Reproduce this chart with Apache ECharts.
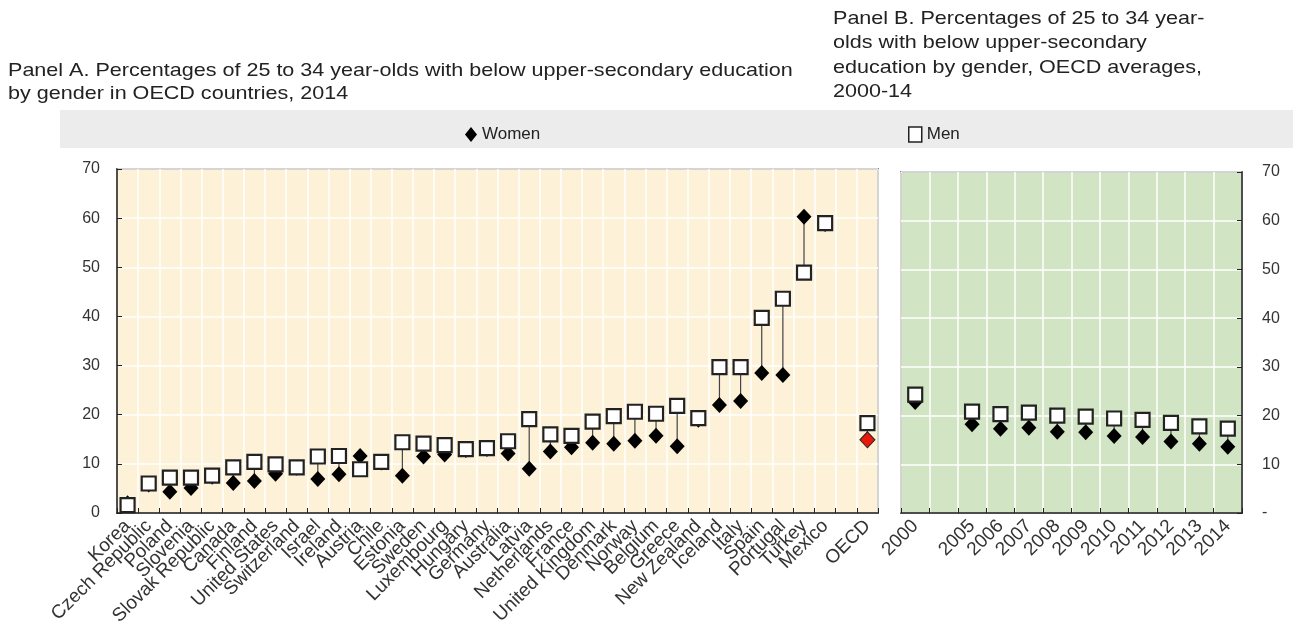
<!DOCTYPE html>
<html><head><meta charset="utf-8">
<script src="https://cdn.jsdelivr.net/npm/echarts@6/dist/echarts.min.js"></script>
<style>html,body{margin:0;padding:0;background:#fff}#c{width:1293px;height:632px}</style>
</head><body><div id="c"></div>
<script>
// Panel A data (2014)
const countries = ['Korea','Czech Republic','Poland','Slovenia','Slovak Republic','Canada','Finland','United States','Switzerland','Israel','Ireland','Austria','Chile','Estonia','Sweden','Luxembourg','Hungary','Germany','Australia','Latvia','Netherlands','France','United Kingdom','Denmark','Norway','Belgium','Greece','New Zealand','Iceland','Italy','Spain','Portugal','Turkey','Mexico','','OECD'];
const womenA = [2.0,5.8,4.3,5.1,7.4,6.1,6.5,8.0,9.2,6.9,7.9,11.6,10.3,7.6,11.5,11.9,12.8,13.0,12.1,9.0,12.5,13.4,14.3,14.1,14.7,15.7,13.6,19.0,22.0,22.8,28.5,28.1,60.3,58.8,null,14.9];
const menA   = [1.6,6.0,7.2,7.2,7.6,9.3,10.4,9.9,9.3,11.5,11.6,8.9,10.4,14.4,14.1,13.8,13.0,13.2,14.6,19.1,16.0,15.7,18.6,19.7,20.6,20.2,21.8,19.3,29.7,29.7,39.7,43.6,48.9,59.0,null,18.3];
// Panel B data (OECD averages)
const years = ['2000','','2005','2006','2007','2008','2009','2010','2011','2012','2013','2014'];
const womenB = [22.8,null,18.2,17.3,17.5,16.7,16.6,15.8,15.6,14.7,14.2,13.6];
const menB   = [24.3,null,20.8,20.3,20.6,20.0,19.8,19.4,19.1,18.5,17.8,17.3];
const titleA = ['Panel A. Percentages of 25 to 34 year-olds with below upper-secondary education','by gender in OECD countries, 2014'];
const titleB = ['Panel B. Percentages of 25 to 34 year-','olds with below upper-secondary','education by gender, OECD averages,','2000-14'];

const FONT = 'Liberation Sans, Arial, sans-serif';
const TXT = '#333';
const chart = echarts.init(document.getElementById('c'), null, {renderer:'canvas'});

function linkData(w, m){
  const out = [];
  w.forEach((v,i)=>{ if(v!=null && m[i]!=null) out.push([i, v, m[i]]); });
  return out;
}
function renderLink(params, api){
  const x = api.value(0);
  const p1 = api.coord([x, api.value(1)]);
  const p2 = api.coord([x, api.value(2)]);
  return {type:'line', shape:{x1:p1[0],y1:p1[1],x2:p2[0],y2:p2[1]}, style:{stroke:'#444', lineWidth:1.2}};
}
const oecdIdx = countries.indexOf('OECD');
const womenAData = womenA.map((v,i)=> i===oecdIdx ? {value:v, itemStyle:{color:'#e8180c', borderColor:'#222', borderWidth:1}} : v);

function titleLines(lines, x, y0, lh){
  return lines.map((t,i)=>({type:'text', x:x, y:y0+i*lh, scaleX:1.165, originX:0, originY:0,
    style:{text:t, font:'18.5px '+FONT, fill:'#222', verticalAlign:'middle'}}));
}

const xAxisCommon = {
  type:'category', boundaryGap:true,
  axisLine:{show:true, lineStyle:{color:'#222', width:1.5}},
  axisTick:{show:true, inside:true, length:5, lineStyle:{color:'#222'}},
  axisLabel:{rotate:45, fontFamily:FONT, fontSize:19, color:TXT, margin:10, interval:0},
  splitLine:{show:true, lineStyle:{color:'#ffffff', width:1.5}}
};
const yAxisCommon = {
  type:'value', min:0, max:70, interval:10,
  axisLine:{show:true, lineStyle:{color:'#222', width:1.5}},
  axisTick:{show:true, inside:true, length:5, lineStyle:{color:'#222'}},
  splitLine:{show:true, lineStyle:{color:'#ffffff', width:1.5}},
  axisLabel:{fontFamily:FONT, fontSize:16, color:TXT, margin:17}
};

const option = {
  animation:false,
  textStyle:{fontFamily:FONT},
  graphic:[{type:'rect', shape:{x:60, y:110, width:1233, height:38}, style:{fill:'#ececec'}, z:-10}]
    .concat(titleLines(titleA, 8, 71, 23))
    .concat(titleLines(titleB, 833, 19, 24.3)),
  legend:[
    {data:[{name:'Women', icon:'diamond'}], left:460, top:121, itemWidth:12, itemHeight:15, itemGap:10,
     textStyle:{fontFamily:FONT, fontSize:17, color:'#222'}},
    {data:[{name:'Men', icon:'rect'}], left:903, top:121, itemWidth:13, itemHeight:15, itemGap:10,
     itemStyle:{borderWidth:1.5},
     textStyle:{fontFamily:FONT, fontSize:17, color:'#222'}}
  ],
  grid:[
    {left:117, right:1293-878, top:169, bottom:632-513, show:true, backgroundColor:'#fdf1d8', borderColor:'#222', borderWidth:1.5},
    {left:901, right:1293-1242, top:172, bottom:632-513, show:true, backgroundColor:'#d1e4c4', borderColor:'#222', borderWidth:1.5}
  ],
  xAxis:[
    Object.assign({}, xAxisCommon, {gridIndex:0, data:countries}),
    Object.assign({}, xAxisCommon, {gridIndex:1, data:years})
  ],
  yAxis:[
    Object.assign({}, yAxisCommon, {gridIndex:0, position:'left'}),
    Object.assign({}, yAxisCommon, {gridIndex:1, position:'right',
      axisLabel:Object.assign({}, yAxisCommon.axisLabel, {margin:20, formatter:v=> v===0 ? '-' : String(v)})})
  ],
  series:[
    {type:'custom', xAxisIndex:0, yAxisIndex:0, renderItem:renderLink, data:linkData(womenA, menA), z:1, silent:true, encode:{x:0, y:[1,2]}},
    {type:'custom', xAxisIndex:1, yAxisIndex:1, renderItem:renderLink, data:linkData(womenB, menB), z:1, silent:true, encode:{x:0, y:[1,2]}},
    {name:'Women', type:'scatter', xAxisIndex:0, yAxisIndex:0, data:womenAData, symbol:'diamond', symbolSize:[15,16],
     itemStyle:{color:'#000', borderColor:'#000', borderWidth:0, opacity:1}, z:2},
    {name:'Women', type:'scatter', xAxisIndex:1, yAxisIndex:1, data:womenB, symbol:'diamond', symbolSize:[15,16],
     itemStyle:{color:'#000', opacity:1}, z:2},
    {name:'Men', type:'scatter', xAxisIndex:0, yAxisIndex:0, data:menA, symbol:'rect', symbolSize:14,
     itemStyle:{color:'#fff', borderColor:'#222', borderWidth:2.2, opacity:1}, z:3},
    {name:'Men', type:'scatter', xAxisIndex:1, yAxisIndex:1, data:menB, symbol:'rect', symbolSize:14,
     itemStyle:{color:'#fff', borderColor:'#222', borderWidth:2.2, opacity:1}, z:3}
  ]
};
chart.setOption(option);
</script></body></html>
